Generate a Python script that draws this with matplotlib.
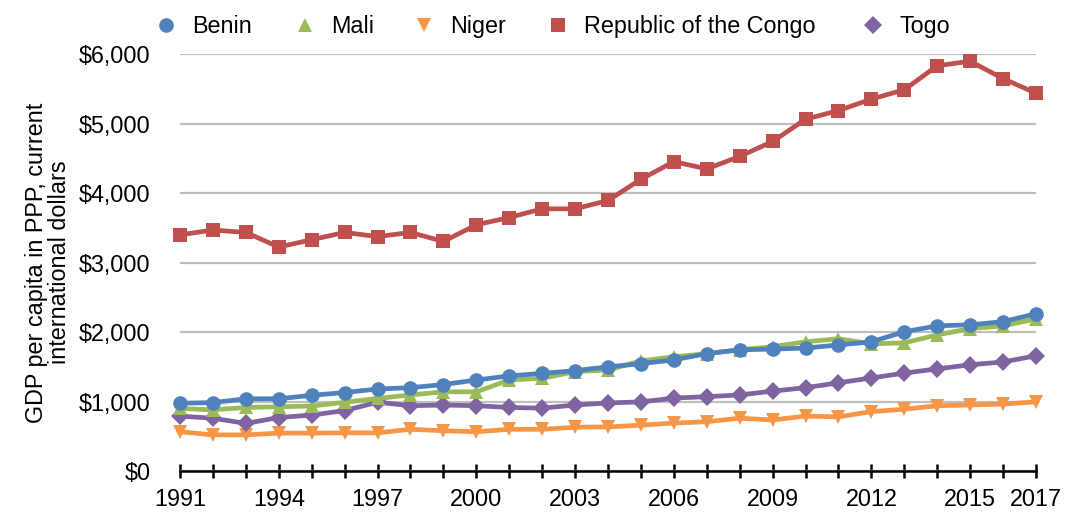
import matplotlib
matplotlib.use("Agg")
import matplotlib.pyplot as plt
from matplotlib.ticker import FuncFormatter

years = list(range(1991, 2018))
benin = [975, 985, 1040, 1040, 1090, 1130, 1180, 1200, 1245, 1310, 1370, 1405, 1445,
         1500, 1545, 1600, 1690, 1745, 1755, 1770, 1815, 1860, 2005, 2090, 2105, 2150, 2265]
mali = [900, 880, 915, 925, 935, 990, 1045, 1095, 1140, 1140, 1310, 1335, 1430,
        1455, 1585, 1645, 1690, 1745, 1790, 1860, 1905, 1830, 1845, 1960, 2050, 2090, 2190]
niger = [565, 520, 520, 545, 545, 550, 550, 600, 580, 565, 600, 600, 630,
         635, 660, 690, 710, 760, 735, 790, 780, 855, 890, 940, 950, 965, 995]
congo = [3400, 3470, 3435, 3225, 3330, 3435, 3375, 3435, 3305, 3545, 3650, 3775, 3775,
         3895, 4200, 4455, 4350, 4530, 4745, 5065, 5190, 5355, 5490, 5835, 5900, 5650, 5440]
togo = [790, 760, 685, 770, 805, 870, 990, 940, 950, 940, 915, 905, 950,
        980, 995, 1050, 1070, 1095, 1150, 1200, 1270, 1340, 1410, 1470, 1530, 1570, 1660]

names = ["Benin", "Mali", "Niger", "Republic of the Congo", "Togo"]
values = [benin, mali, niger, congo, togo]
colors = ["#4F81BD", "#9BBB59", "#F79646", "#C0504D", "#8064A2"]
markers = ["o", "^", "v", "s", "D"]
msizes = [10.5, 10.5, 10.5, 9.5, 9.5]
zorders = [8, 7, 5, 4, 6]
xtick_labels = [1991, 1994, 1997, 2000, 2003, 2006, 2009, 2012, 2015, 2017]
legend_marker_px = [166, 305, 424, 558, 873]

plt.rcParams['font.family'] = ['Liberation Sans', 'DejaVu Sans']
FS = 16.8
W, H = 1067, 513

fig = plt.figure(figsize=(W / 100, H / 100), dpi=100)
ax = fig.add_axes([180 / W, 42 / H, 856 / W, (471 - 54.3) / H])

handles = []
for n, v, c, m, ms, z in zip(names, values, colors, markers, msizes, zorders):
    h, = ax.plot(years, v, color=c, marker=m, markersize=ms, linewidth=3.4,
                 label=n, clip_on=False, zorder=z, markeredgewidth=0)
    handles.append(h)

ax.set_xlim(1991, 2017)
ax.set_ylim(0, 6000)
ax.set_yticks(range(0, 6001, 1000))
ax.yaxis.set_major_formatter(FuncFormatter(lambda v, p: "${:,.0f}".format(v)))
ax.set_xticks(years, minor=False)
ax.set_xticklabels([str(y) if y in xtick_labels else "" for y in years])
ax.grid(axis="y", color="#BFBFBF", linewidth=1.6)
ax.set_axisbelow(True)
for s in ["top", "right", "left"]:
    ax.spines[s].set_visible(False)
ax.spines["bottom"].set_linewidth(1.8)
ax.spines["bottom"].set_zorder(3)
ax.tick_params(axis="x", direction="inout", length=10, width=1.8, labelsize=FS, pad=7)
ax.tick_params(axis="y", length=0, labelsize=FS, pad=21)
ax.set_ylabel("GDP per capita in PPP, current\ninternational dollars", fontsize=FS,
              linespacing=1.0, labelpad=6)

hl = 0.8
half_handle_px = hl * FS / 2 * 100 / 72
for h, n, mx in zip(handles, names, legend_marker_px):
    lg = fig.legend(handles=[h], labels=[n], loc="center left",
                    bbox_to_anchor=((mx - half_handle_px) / W, 1 - 27 / H),
                    frameon=False, fontsize=FS, handlelength=hl, handletextpad=0.72,
                    borderpad=0, borderaxespad=0)
    for lh in lg.legend_handles:
        lh.set_linestyle("None")

fig.savefig("out.png", dpi=100)
